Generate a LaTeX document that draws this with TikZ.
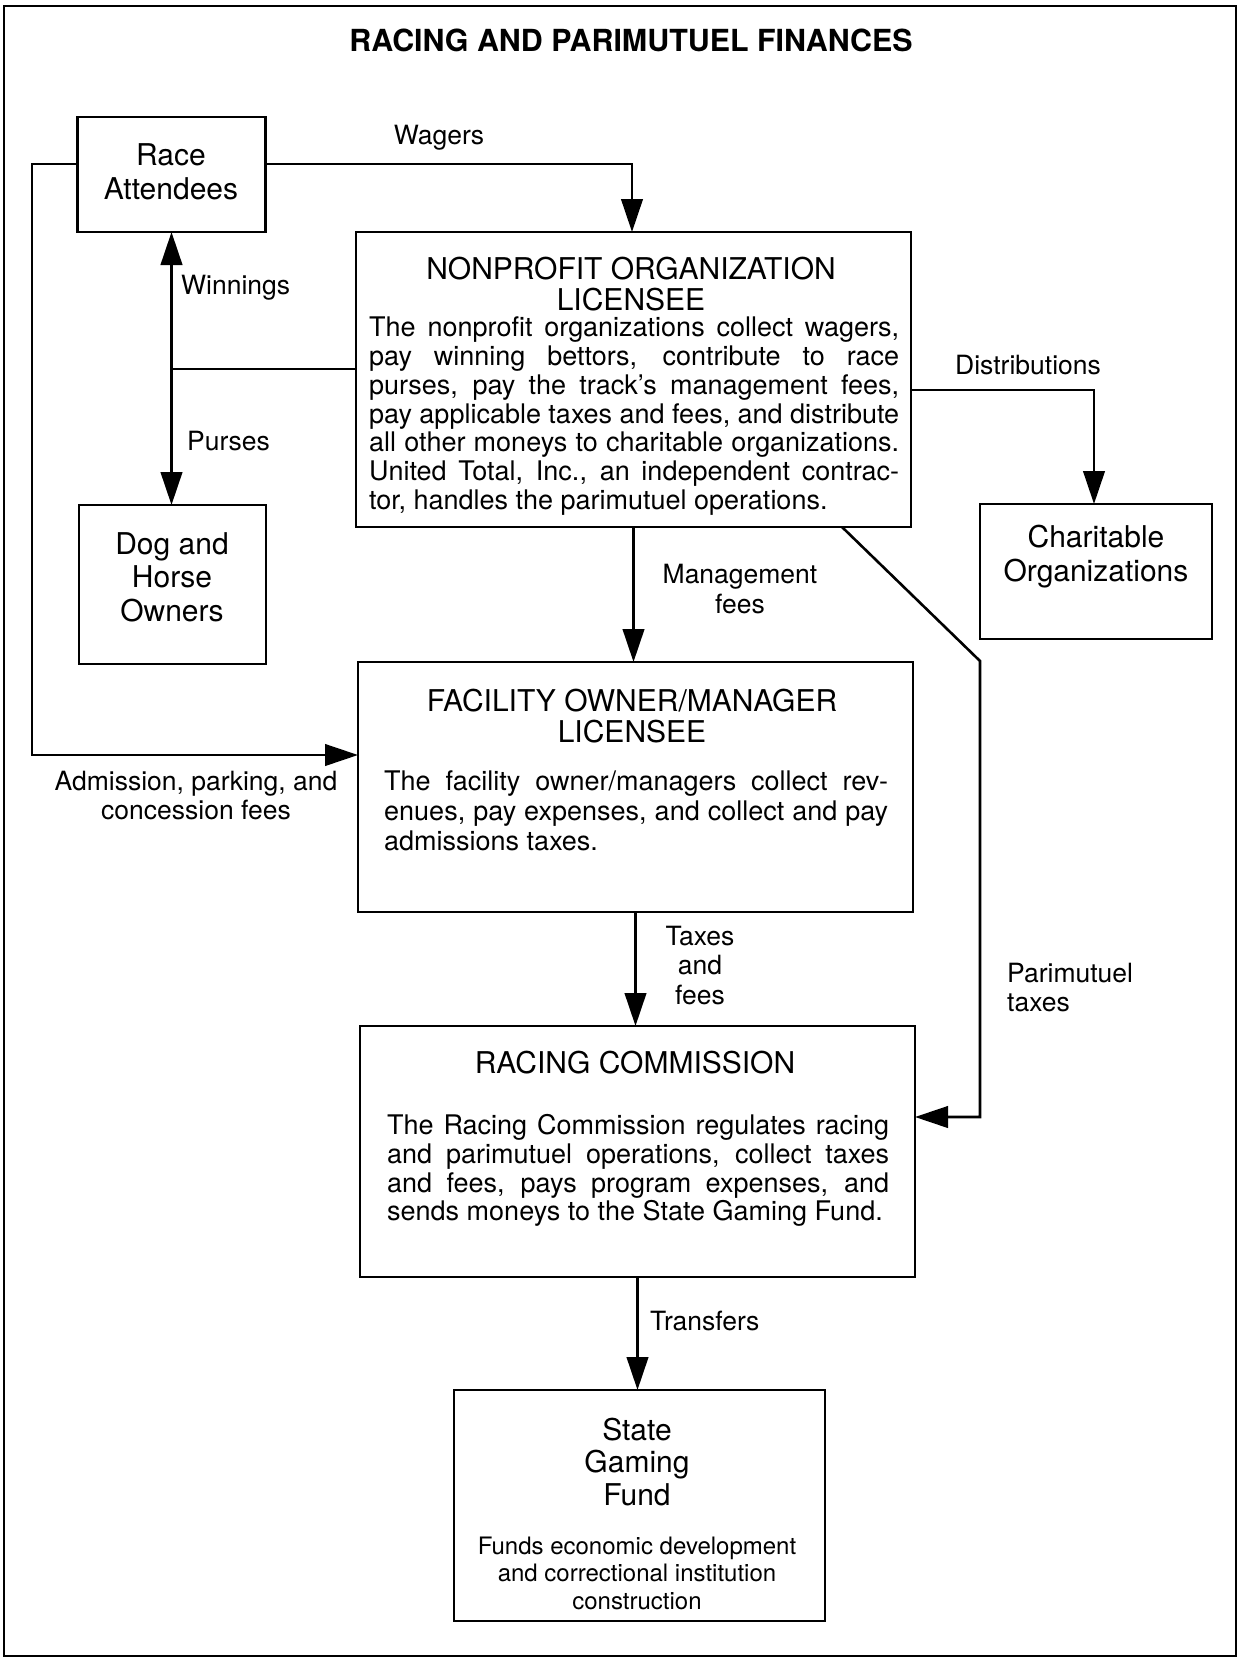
\documentclass[tikz,border=0pt]{standalone}
\usepackage{fontspec}
\setmainfont{TeX Gyre Heros}
\usetikzlibrary{arrows.meta}
\newcommand{\jl}[2]{\makebox[#1][s]{#2}}
\tikzset{
  box/.style={draw, line width=2.8pt, inner sep=0pt, outer sep=0pt},
  flow/.style={line width=2.6pt, -{Triangle[length=33pt,width=21.5pt]}},
  link/.style={line width=2.6pt},
  lbl/.style={inner sep=0pt, align=center, font=\fontsize{26.5}{29.5}\selectfont},
  hd/.style={inner sep=0pt, align=center, font=\fontsize{30}{#1}\selectfont},
  hd/.default=33,
  bodytext/.style={inner sep=0pt, align=left, anchor=north west, font=\fontsize{27}{#1}\selectfont},
  bodytext/.default=28.7,
}
\begin{document}
\begin{tikzpicture}[x=1pt,y=-1pt]
\useasboundingbox (0,0) rectangle (1241,1658);
\draw[line width=2.6pt] (4,6) rectangle (1236,1656);
\node[inner sep=0pt, font=\bfseries\fontsize{30.4}{32}\selectfont] (title) at (631,40) {RACING AND PARIMUTUEL FINANCES};

% boxes
\node[box, minimum width=188pt, minimum height=115pt] (race) at (171.5,174.5) {};
\node[box, minimum width=555pt, minimum height=295pt] (np) at (633.5,379.5) {};
\node[box, minimum width=187pt, minimum height=159pt] (dog) at (172.5,584.5) {};
\node[box, minimum width=232pt, minimum height=135pt] (ch) at (1096,571.5) {};
\node[box, minimum width=555pt, minimum height=250pt] (fac) at (635.5,787) {};
\node[box, minimum width=555pt, minimum height=251pt] (rc) at (637.5,1151.5) {};
\node[box, minimum width=371pt, minimum height=231pt] (sg) at (639.5,1505.5) {};

% box texts
\node[hd=34] (raceT) at (171,172) {Race\\Attendees};
\node[hd=33.5] (dogT) at (172,577) {Dog and\\Horse\\Owners};
\node[hd=34] (chT) at (1096,557) {Charitable\\Organizations};
\node[hd=31] (npH) at (631,284) {NONPROFIT ORGANIZATION\\LICENSEE};
\node[bodytext] (npB) at (369,317) {%
\jl{530pt}{The nonprofit organizations collect wagers,}\\
\jl{530pt}{pay winning bettors, contribute to race}\\
\jl{530pt}{purses, pay the track’s management fees,}\\
\jl{530pt}{pay applicable taxes and fees, and distribute}\\
\jl{530pt}{all other moneys to charitable organizations.}\\
\jl{530pt}{United Total, Inc., an independent contrac-}\\
tor, handles the parimutuel operations.};
\node[hd=30.5] (facH) at (632,716) {FACILITY OWNER/MANAGER\\LICENSEE};
\node[bodytext=29.7] (facB) at (384,771) {%
\jl{504pt}{The facility owner/managers collect rev-}\\
\jl{504pt}{enues, pay expenses, and collect and pay}\\
admissions taxes.};
\node[hd] (rcH) at (635,1063) {RACING COMMISSION};
\node[bodytext] (rcB) at (387,1114.5) {%
\jl{502pt}{The Racing Commission regulates racing}\\
\jl{502pt}{and parimutuel operations, collect taxes}\\
\jl{502pt}{and fees, pays program expenses, and}\\
sends moneys to the State Gaming Fund.};
\node[hd=33] (sgH) at (637,1462) {State\\Gaming\\Fund};
\node[inner sep=0pt, align=center, font=\fontsize{24}{27.5}\selectfont] (sgB) at (637,1573) {Funds economic development\\and correctional institution\\construction};

% connector labels
\node[lbl] (wagT) at (439,138) {Wagers};
\node[lbl, anchor=west] (winT) at (181,288) {Winnings};
\node[lbl, anchor=west] (purT) at (187,441) {Purses};
\node[lbl] (disT) at (1028,365) {Distributions};
\node[lbl] (mgT) at (740,589) {Management\\fees};
\node[lbl] (admT) at (196,795.5) {Admission, parking, and\\concession fees};
\node[lbl] (taxT) at (700,965.5) {Taxes\\and\\fees};
\node[lbl, align=left, anchor=west] (parT) at (1007,987.5) {Parimutuel\\taxes};
\node[lbl, anchor=west] (trT) at (650,1321) {Transfers};

% connectors
\coordinate (wg) at (632,164);
\draw[flow] (race.east |- wg) -- (wg) -- (wg |- np.north);
\coordinate (lt) at (32,164);
\coordinate (lb) at (32,755);
\draw[flow] (race.west |- lt) -- (lt) -- (lb) -- (lb -| fac.west);
\coordinate (wp) at (171.5,369);
\draw[link] (np.west |- wp) -- (wp);
\draw[flow] (wp) -- (wp |- race.south);
\draw[flow] (wp) -- (wp |- dog.north);
\coordinate (ds) at (1094,390);
\draw[flow] (np.east |- ds) -- (ds) -- (ds |- ch.north);
\draw[flow] (np.south) -- (np.south |- fac.north);
\coordinate (pk) at (980,661);
\coordinate (pb) at (980,1117);
\draw[flow] ([xshift=208.5pt]np.south) -- (pk) -- (pb) -- (pb -| rc.east);
\draw[flow] (fac.south) -- (fac.south |- rc.north);
\draw[flow] (rc.south) -- (rc.south |- sg.north);
\end{tikzpicture}
\end{document}
